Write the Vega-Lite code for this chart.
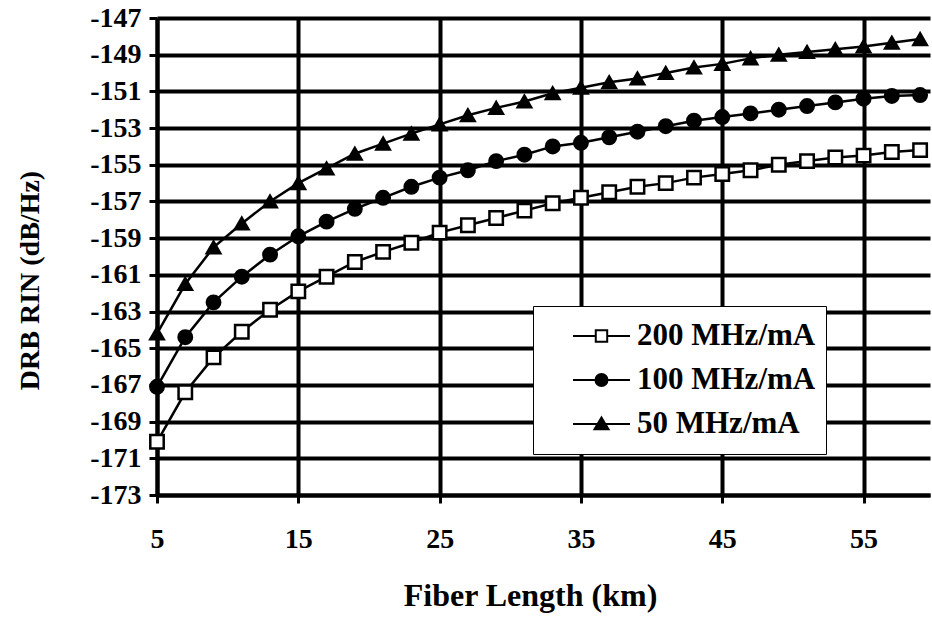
{
  "$schema": "https://vega.github.io/schema/vega-lite/v6.json",
  "width": 773,
  "height": 477,
  "autosize": "none",
  "padding": {"left": 157, "top": 18, "right": 2, "bottom": 124},
  "background": "white",
  "config": {
    "view": {"stroke": null},
    "font": "Liberation Serif"
  },
  "data": {
    "values": [
      {"km": 5, "rin": -170.1, "series": "200 MHz/mA"},
      {"km": 7, "rin": -167.4, "series": "200 MHz/mA"},
      {"km": 9, "rin": -165.5, "series": "200 MHz/mA"},
      {"km": 11, "rin": -164.1, "series": "200 MHz/mA"},
      {"km": 13, "rin": -162.9, "series": "200 MHz/mA"},
      {"km": 15, "rin": -161.9, "series": "200 MHz/mA"},
      {"km": 17, "rin": -161.1, "series": "200 MHz/mA"},
      {"km": 19, "rin": -160.3, "series": "200 MHz/mA"},
      {"km": 21, "rin": -159.75, "series": "200 MHz/mA"},
      {"km": 23, "rin": -159.25, "series": "200 MHz/mA"},
      {"km": 25, "rin": -158.7, "series": "200 MHz/mA"},
      {"km": 27, "rin": -158.3, "series": "200 MHz/mA"},
      {"km": 29, "rin": -157.9, "series": "200 MHz/mA"},
      {"km": 31, "rin": -157.5, "series": "200 MHz/mA"},
      {"km": 33, "rin": -157.1, "series": "200 MHz/mA"},
      {"km": 35, "rin": -156.8, "series": "200 MHz/mA"},
      {"km": 37, "rin": -156.5, "series": "200 MHz/mA"},
      {"km": 39, "rin": -156.2, "series": "200 MHz/mA"},
      {"km": 41, "rin": -156.0, "series": "200 MHz/mA"},
      {"km": 43, "rin": -155.7, "series": "200 MHz/mA"},
      {"km": 45, "rin": -155.5, "series": "200 MHz/mA"},
      {"km": 47, "rin": -155.3, "series": "200 MHz/mA"},
      {"km": 49, "rin": -155.0, "series": "200 MHz/mA"},
      {"km": 51, "rin": -154.8, "series": "200 MHz/mA"},
      {"km": 53, "rin": -154.6, "series": "200 MHz/mA"},
      {"km": 55, "rin": -154.5, "series": "200 MHz/mA"},
      {"km": 57, "rin": -154.3, "series": "200 MHz/mA"},
      {"km": 59, "rin": -154.2, "series": "200 MHz/mA"},
      {"km": 5, "rin": -167.1, "series": "100 MHz/mA"},
      {"km": 7, "rin": -164.4, "series": "100 MHz/mA"},
      {"km": 9, "rin": -162.5, "series": "100 MHz/mA"},
      {"km": 11, "rin": -161.1, "series": "100 MHz/mA"},
      {"km": 13, "rin": -159.9, "series": "100 MHz/mA"},
      {"km": 15, "rin": -158.9, "series": "100 MHz/mA"},
      {"km": 17, "rin": -158.1, "series": "100 MHz/mA"},
      {"km": 19, "rin": -157.4, "series": "100 MHz/mA"},
      {"km": 21, "rin": -156.8, "series": "100 MHz/mA"},
      {"km": 23, "rin": -156.2, "series": "100 MHz/mA"},
      {"km": 25, "rin": -155.7, "series": "100 MHz/mA"},
      {"km": 27, "rin": -155.3, "series": "100 MHz/mA"},
      {"km": 29, "rin": -154.8, "series": "100 MHz/mA"},
      {"km": 31, "rin": -154.45, "series": "100 MHz/mA"},
      {"km": 33, "rin": -154.0, "series": "100 MHz/mA"},
      {"km": 35, "rin": -153.8, "series": "100 MHz/mA"},
      {"km": 37, "rin": -153.5, "series": "100 MHz/mA"},
      {"km": 39, "rin": -153.2, "series": "100 MHz/mA"},
      {"km": 41, "rin": -152.9, "series": "100 MHz/mA"},
      {"km": 43, "rin": -152.6, "series": "100 MHz/mA"},
      {"km": 45, "rin": -152.4, "series": "100 MHz/mA"},
      {"km": 47, "rin": -152.2, "series": "100 MHz/mA"},
      {"km": 49, "rin": -152.0, "series": "100 MHz/mA"},
      {"km": 51, "rin": -151.8, "series": "100 MHz/mA"},
      {"km": 53, "rin": -151.6, "series": "100 MHz/mA"},
      {"km": 55, "rin": -151.4, "series": "100 MHz/mA"},
      {"km": 57, "rin": -151.25, "series": "100 MHz/mA"},
      {"km": 59, "rin": -151.2, "series": "100 MHz/mA"},
      {"km": 5, "rin": -164.2, "series": "50 MHz/mA"},
      {"km": 7, "rin": -161.5, "series": "50 MHz/mA"},
      {"km": 9, "rin": -159.5, "series": "50 MHz/mA"},
      {"km": 11, "rin": -158.2, "series": "50 MHz/mA"},
      {"km": 13, "rin": -157.0, "series": "50 MHz/mA"},
      {"km": 15, "rin": -156.0, "series": "50 MHz/mA"},
      {"km": 17, "rin": -155.2, "series": "50 MHz/mA"},
      {"km": 19, "rin": -154.4, "series": "50 MHz/mA"},
      {"km": 21, "rin": -153.85, "series": "50 MHz/mA"},
      {"km": 23, "rin": -153.3, "series": "50 MHz/mA"},
      {"km": 25, "rin": -152.8, "series": "50 MHz/mA"},
      {"km": 27, "rin": -152.3, "series": "50 MHz/mA"},
      {"km": 29, "rin": -151.9, "series": "50 MHz/mA"},
      {"km": 31, "rin": -151.55, "series": "50 MHz/mA"},
      {"km": 33, "rin": -151.1, "series": "50 MHz/mA"},
      {"km": 35, "rin": -150.8, "series": "50 MHz/mA"},
      {"km": 37, "rin": -150.5, "series": "50 MHz/mA"},
      {"km": 39, "rin": -150.3, "series": "50 MHz/mA"},
      {"km": 41, "rin": -150.0, "series": "50 MHz/mA"},
      {"km": 43, "rin": -149.7, "series": "50 MHz/mA"},
      {"km": 45, "rin": -149.5, "series": "50 MHz/mA"},
      {"km": 47, "rin": -149.2, "series": "50 MHz/mA"},
      {"km": 49, "rin": -149.0, "series": "50 MHz/mA"},
      {"km": 51, "rin": -148.85, "series": "50 MHz/mA"},
      {"km": 53, "rin": -148.7, "series": "50 MHz/mA"},
      {"km": 55, "rin": -148.55, "series": "50 MHz/mA"},
      {"km": 57, "rin": -148.35, "series": "50 MHz/mA"},
      {"km": 59, "rin": -148.15, "series": "50 MHz/mA"}
    ]
  },
  "encoding": {
    "x": {
      "field": "km",
      "type": "quantitative",
      "scale": {"domain": [5, 59.7], "nice": false, "zero": false},
      "axis": {
        "title": "Fiber Length  (km)",
        "values": [5, 15, 25, 35, 45, 55],
        "grid": true,
        "gridColor": "black",
        "gridWidth": 4,
        "gridOpacity": 1,
        "domainColor": "black",
        "domainWidth": 4,
        "tickColor": "black",
        "tickWidth": 3,
        "tickSize": 8,
        "labelFont": "Liberation Serif",
        "labelFontWeight": "bold",
        "labelFontSize": 28,
        "labelColor": "black",
        "labelPadding": 22,
        "labelFlush": false,
        "titleFont": "Liberation Serif",
        "titleFontWeight": "bold",
        "titleFontSize": 32,
        "titleColor": "black",
        "titleX": 373,
        "titleY": 100,
        "titleBaseline": "middle",
        "titleAlign": "center"
      }
    },
    "y": {
      "field": "rin",
      "type": "quantitative",
      "scale": {"domain": [-173, -147], "nice": false, "zero": false},
      "axis": {
        "title": "DRB RIN  (dB/Hz)",
        "values": [-173, -171, -169, -167, -165, -163, -161, -159, -157, -155, -153, -151, -149, -147],
        "labelExpr": "'-' + abs(datum.value)",
        "grid": true,
        "gridColor": "black",
        "gridWidth": 4,
        "gridOpacity": 1,
        "domainColor": "black",
        "domainWidth": 4,
        "tickColor": "black",
        "tickWidth": 3,
        "tickSize": 8,
        "labelFont": "Liberation Serif",
        "labelFontWeight": "bold",
        "labelFontSize": 28,
        "labelColor": "black",
        "labelPadding": 8,
        "labelFlush": false,
        "titleFont": "Liberation Serif",
        "titleFontWeight": "bold",
        "titleFontSize": 28,
        "titleColor": "black",
        "titleX": -127,
        "titleY": 262,
        "titleBaseline": "middle",
        "titleAlign": "center",
        "titleAngle": -90
      }
    }
  },
  "resolve": {
    "scale": {"shape": "independent", "fill": "independent", "stroke": "independent"},
    "legend": {"shape": "independent", "fill": "independent", "stroke": "independent"}
  },
  "layer": [
    {
      "mark": {"type": "line", "stroke": "black", "strokeWidth": 2.5},
      "encoding": {"detail": {"field": "series"}}
    },
    {
      "mark": {"type": "point", "filled": true, "stroke": "black", "strokeWidth": 2.5, "opacity": 1, "size": 180},
      "encoding": {
        "shape": {
          "field": "series",
          "type": "nominal",
          "scale": {"domain": ["200 MHz/mA", "100 MHz/mA", "50 MHz/mA"], "range": ["square", "circle", "triangle-up"]},
          "legend": null
        },
        "fill": {
          "field": "series",
          "type": "nominal",
          "scale": {"domain": ["200 MHz/mA", "100 MHz/mA", "50 MHz/mA"], "range": ["white", "black", "black"]},
          "legend": null
        }
      }
    },
    {
      "transform": [{"filter": "datum.km < 0"}],
      "mark": {"type": "point", "filled": true, "strokeWidth": 2, "opacity": 1},
      "encoding": {
        "shape": {
          "field": "series",
          "type": "nominal",
          "scale": {
            "domain": ["200 MHz/mA", "100 MHz/mA", "50 MHz/mA"],
            "range": [
              "M-0.326,0H0.204M0.47,0H1M0.204,-0.133H0.47V0.133H0.204Z",
              "M-0.326,0H0.197M0.477,0H1M0.477,0A0.14,0.14 0 1,1 0.197,0A0.14,0.14 0 1,1 0.477,0Z",
              "M-0.326,0H1M0.337,-0.15L0.5,0.12L0.174,0.12Z"
            ]
          },
          "legend": {
            "title": null,
            "orient": "none",
            "legendX": 376,
            "legendY": 288,
            "direction": "vertical",
            "padding": 10,
            "fillColor": "white",
            "strokeColor": "black",
            "symbolSize": 7396,
            "symbolStrokeWidth": 2,
            "labelFont": "Liberation Serif",
            "labelFontWeight": "bold",
            "labelFontSize": 31,
            "labelColor": "black",
            "labelLimit": 400,
            "labelOffset": 6,
            "clipHeight": 40,
            "rowPadding": 4,
            "encode": {"legend": {"strokeWidth": {"value": 3}}}
          }
        },
        "fill": {
          "field": "series",
          "type": "nominal",
          "scale": {"domain": ["200 MHz/mA", "100 MHz/mA", "50 MHz/mA"], "range": ["white", "black", "black"]},
          "legend": {
            "title": null,
            "orient": "none",
            "legendX": 376,
            "legendY": 288,
            "direction": "vertical",
            "padding": 10,
            "fillColor": "white",
            "strokeColor": "black",
            "symbolSize": 7396,
            "symbolStrokeWidth": 2,
            "labelFont": "Liberation Serif",
            "labelFontWeight": "bold",
            "labelFontSize": 31,
            "labelColor": "black",
            "labelLimit": 400,
            "labelOffset": 6,
            "clipHeight": 40,
            "rowPadding": 4,
            "encode": {"legend": {"strokeWidth": {"value": 3}}}
          }
        },
        "stroke": {
          "field": "series",
          "type": "nominal",
          "scale": {"domain": ["200 MHz/mA", "100 MHz/mA", "50 MHz/mA"], "range": ["black", "black", "black"]},
          "legend": {
            "title": null,
            "orient": "none",
            "legendX": 376,
            "legendY": 288,
            "direction": "vertical",
            "padding": 10,
            "fillColor": "white",
            "strokeColor": "black",
            "symbolSize": 7396,
            "symbolStrokeWidth": 2,
            "labelFont": "Liberation Serif",
            "labelFontWeight": "bold",
            "labelFontSize": 31,
            "labelColor": "black",
            "labelLimit": 400,
            "labelOffset": 6,
            "clipHeight": 40,
            "rowPadding": 4,
            "encode": {"legend": {"strokeWidth": {"value": 3}}}
          }
        }
      }
    }
  ]
}
